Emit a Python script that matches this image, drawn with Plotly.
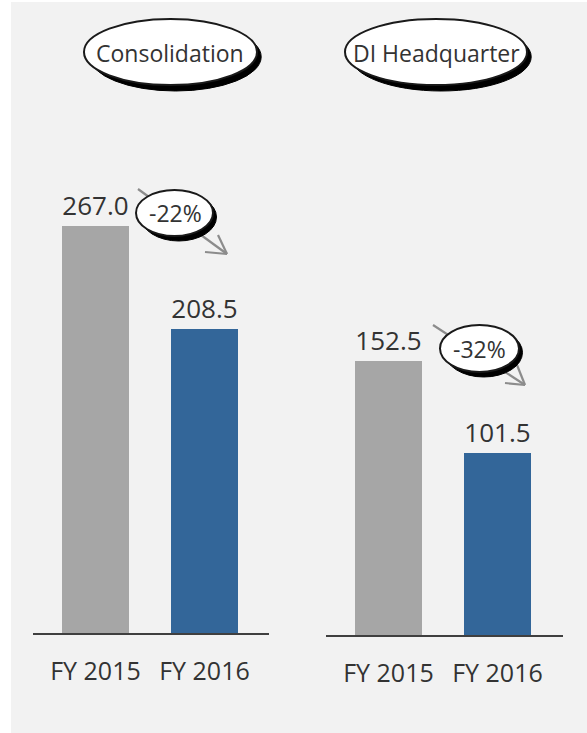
import plotly.graph_objects as go

# ---- data ----
years = ["FY 2015", "FY 2016"]
consolidation = [267.0, 208.5]
headquarter = [152.5, 101.5]
panel_titles = ["Consolidation", "DI Headquarter"]
changes = ["-22%", "-32%"]

W, H = 587, 733
BAR_COLORS = ["#a6a6a6", "#336699"]
TEXT = "#333333"
FONT = "Open Sans"


def fx(px):
    return px / W


def fy(py):
    return 1 - py / H


fig = go.Figure()

for i, vals in enumerate([consolidation, headquarter]):
    sfx = "" if i == 0 else "2"
    fig.add_trace(go.Bar(
        x=years, y=vals,
        xaxis="x" + sfx, yaxis="y" + sfx,
        marker=dict(color=BAR_COLORS, line=dict(width=0)),
        width=0.615,
        text=[f"{v:.1f}" for v in vals],
        textposition="outside",
        cliponaxis=False,
        textfont=dict(family=FONT, size=26, color=TEXT),
        hoverinfo="skip",
    ))

axis_common = dict(
    showgrid=False, zeroline=False,
    tickfont=dict(family=FONT, size=25, color=TEXT),
)

fig.update_layout(
    width=W, height=H,
    margin=dict(l=0, r=0, t=0, b=0),
    paper_bgcolor="white",
    plot_bgcolor="rgba(0,0,0,0)",
    showlegend=False,
    bargap=0,
    xaxis=dict(domain=[fx(33), fx(269)], range=[-0.573, 1.592],
               showline=True, linecolor="#3f3f3f", linewidth=2,
               ticks="", ticklabelstandoff=15, anchor="y", **axis_common),
    yaxis=dict(domain=[fy(633), fy(100)], range=[35.8, 338.5],
               visible=False, anchor="x"),
    xaxis2=dict(domain=[fx(326), fx(563)], range=[-0.573, 1.601],
                showline=True, linecolor="#3f3f3f", linewidth=2,
                ticks="", ticklabelstandoff=15, anchor="y2", **axis_common),
    yaxis2=dict(domain=[fy(635), fy(100)], range=[0, 298.2],
                visible=False, anchor="x2"),
)

shapes = []
# light panel background
shapes.append(dict(type="rect", xref="paper", yref="paper", layer="below",
                   x0=fx(11), x1=fx(W), y0=fy(H), y1=fy(2),
                   fillcolor="#f2f2f2", line=dict(width=0)))


def badge(x0, y0, x1, y1, off=6):
    # black drop shadow, then white ellipse with dark outline
    shapes.append(dict(type="circle", xref="paper", yref="paper",
                       x0=fx(x0 + off), x1=fx(x1 + off * 0.7),
                       y0=fy(y1 + off), y1=fy(y0 + off * 0.6),
                       fillcolor="#000000", line=dict(color="#000000", width=1)))
    shapes.append(dict(type="circle", xref="paper", yref="paper",
                       x0=fx(x0), x1=fx(x1), y0=fy(y1), y1=fy(y0),
                       fillcolor="white", line=dict(color="#1a1a1a", width=2)))


def arrow(xs, ys, xe, ye, h1, h2):
    line = dict(color="#8c8c8c", width=2.2)
    for (a, b) in [((xs, ys), (xe, ye)), (h1, (xe, ye)), (h2, (xe, ye))]:
        shapes.append(dict(type="line", xref="paper", yref="paper",
                           x0=fx(a[0]), y0=fy(a[1]), x1=fx(b[0]), y1=fy(b[1]),
                           line=line))


# panel title ovals
badge(84, 19, 257, 85)
badge(345, 19, 527, 85)

# change arrows with their percentage ovals
arrow(138, 189, 227, 254, (218, 235), (205, 252))
badge(136, 190, 213, 236, off=5)
arrow(433, 325, 525, 385, (517, 365), (505, 383))
badge(440, 325, 519, 372, off=5)

fig.update_layout(shapes=shapes)

annotations = []
for txt, cx in zip(panel_titles, [170, 436]):
    annotations.append(dict(text=txt, x=fx(cx), y=fy(53), xref="paper", yref="paper",
                            showarrow=False, xanchor="center", yanchor="middle",
                            font=dict(family=FONT, size=23, color=TEXT)))
for txt, (cx, cy) in zip(changes, [(175, 213), (479, 349)]):
    annotations.append(dict(text=txt, x=fx(cx), y=fy(cy), xref="paper", yref="paper",
                            showarrow=False, xanchor="center", yanchor="middle",
                            font=dict(family=FONT, size=23, color=TEXT)))
fig.update_layout(annotations=annotations)

fig.write_html("out.html")
